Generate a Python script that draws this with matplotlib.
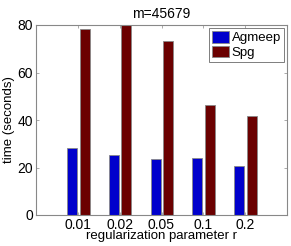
import matplotlib
matplotlib.use("Agg")
import matplotlib.pyplot as plt
import numpy as np

categories = ["0.01", "0.02", "0.05", "0.1", "0.2"]
agmeep = [28.4, 25.1, 23.5, 24.0, 20.6]
spg = [78.4, 79.8, 73.2, 46.2, 41.5]

plt.rcParams['font.family'] = ['Liberation Sans', 'DejaVu Sans']

fig = plt.figure(figsize=(2.91, 2.46), dpi=100)
ax = fig.add_axes([36/291, 1-215/246, 251/291, 190/246])

x = np.arange(1, len(categories) + 1)
w = 0.24
ax.bar(x - 0.14, agmeep, w, color='#0000cc', edgecolor='#888888', linewidth=0.6, label='Agmeep')
ax.bar(x + 0.16, spg, w, color='#6b0000', edgecolor='#888888', linewidth=0.6, label='Spg')

ax.set_xlim(0, 6)
ax.set_ylim(0, 80)
ax.set_xticks(x)
ax.set_xticklabels(categories)
ax.set_yticks([0, 20, 40, 60, 80])
ax.tick_params(direction='in', length=2.5, width=0.5, color='#888888', labelsize=10,
               top=True, right=True, pad=2)
for s in ax.spines.values():
    s.set_color('#888888')
    s.set_linewidth(0.8)

ax.set_xlabel('regularization parameter r', fontsize=9.5, labelpad=-1)
ax.set_ylabel('time (seconds)', fontsize=9.5, labelpad=2)
ax.set_title('m=45679', fontsize=10, pad=5)

leg = ax.legend(loc='upper right', fontsize=9.5, frameon=True, fancybox=False,
                borderpad=0.2, handlelength=1.3, handleheight=1.0, handletextpad=0.2,
                labelspacing=0.1, borderaxespad=0.25)
leg.get_frame().set_edgecolor('#444444')
leg.get_frame().set_linewidth(0.6)

fig.savefig('out.png', dpi=100)
